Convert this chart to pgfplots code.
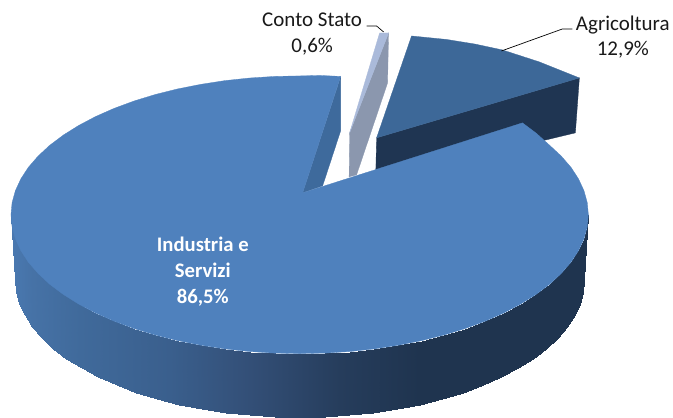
\documentclass[border=0pt]{standalone}
\usepackage{pgfplots}
\pgfplotsset{compat=1.18}
\usepackage{fontspec}
\setmainfont{Carlito}
\definecolor{topmain}{RGB}{79,129,189}
\definecolor{cutmain}{RGB}{62,106,156}
\definecolor{topagri}{RGB}{61,104,152}
\definecolor{wallagri}{RGB}{31,53,82}
\definecolor{topconto}{RGB}{170,186,218}
\definecolor{wallconto}{RGB}{139,151,174}
\begin{document}
\begin{tikzpicture}
\begin{axis}[
  width=673pt,height=418pt,scale only axis,hide axis,clip=false,
  xmin=0,xmax=673,ymin=0,ymax=418,y dir=reverse,
  colormap={wall}{
    rgb255(0pt)=(76,124,182);
    rgb255(33pt)=(70,114,166);
    rgb255(80pt)=(64,106,155);
    rgb255(170pt)=(58,95,141);
    rgb255(250pt)=(51,79,119);
    rgb255(340pt)=(38,61,92);
    rgb255(420pt)=(31,52,79);
    rgb255(673pt)=(31,52,79)},
  point meta min=0,point meta max=673
]
\path (axis cs:0,0) -- (axis cs:673,418);
% Conto Stato
\addplot[fill=wallconto,draw=wallconto,line width=0.3pt] coordinates {(389,33) (388,83) (357,175) (349.5,177) (350,133)} --cycle;
\addplot[fill=topconto,draw=topconto,line width=0.3pt] coordinates {(380,33) (389,33) (350,133)} --cycle;
% Agricoltura
\addplot[fill=wallagri,draw=wallagri,line width=0.3pt] coordinates {(377,138) (580,78) (576,133) (376,181)} --cycle;
\addplot[fill=topagri,draw=topagri,line width=0.3pt] coordinates {(412,36) (447,39.5) (475,44) (503,50) (540,62) (580,78) (377,138)} --cycle;
% Industria e Servizi: cut face
\addplot[fill=cutmain,draw=cutmain,line width=0.3pt] coordinates {(341,77) (341,131) (323,186) (303,193)} --cycle;
% Industria e Servizi: wall
\addplot[patch,patch type=rectangle,shader=interp,point meta=x] table[row sep=newline] {
x y
11.0 215.0
12.1 227.1
16.1 292.0
15.0 280.0
12.1 227.1
15.4 239.1
19.3 304.0
16.1 292.0
15.4 239.1
20.9 251.0
24.7 315.7
19.3 304.0
20.9 251.0
28.4 262.5
32.2 327.2
24.7 315.7
28.4 262.5
38.1 273.7
41.7 338.3
32.2 327.2
38.1 273.7
49.7 284.5
53.2 349.0
41.7 338.3
49.7 284.5
63.3 294.7
66.5 359.2
53.2 349.0
63.3 294.7
78.6 304.3
81.7 368.7
66.5 359.2
78.6 304.3
95.6 313.3
98.5 377.6
81.7 368.7
95.6 313.3
114.2 321.5
116.8 385.7
98.5 377.6
114.2 321.5
134.2 328.9
136.5 393.1
116.8 385.7
134.2 328.9
155.5 335.4
157.5 399.5
136.5 393.1
155.5 335.4
177.9 341.0
179.6 405.1
157.5 399.5
177.9 341.0
201.2 345.6
202.5 409.7
179.6 405.1
201.2 345.6
225.2 349.3
226.2 413.3
202.5 409.7
225.2 349.3
249.8 351.9
250.5 415.9
226.2 413.3
249.8 351.9
274.8 353.5
275.1 417.5
250.5 415.9
274.8 353.5
300.0 354.0
300.0 418.0
275.1 417.5
300.0 354.0
325.2 353.5
324.9 417.5
300.0 418.0
325.2 353.5
350.2 351.9
349.5 415.9
324.9 417.5
350.2 351.9
374.8 349.3
373.8 413.3
349.5 415.9
374.8 349.3
398.8 345.6
397.5 409.7
373.8 413.3
398.8 345.6
422.1 341.0
420.4 405.1
397.5 409.7
422.1 341.0
444.5 335.4
442.5 399.5
420.4 405.1
444.5 335.4
465.8 328.9
463.5 393.1
442.5 399.5
465.8 328.9
485.8 321.5
483.2 385.7
463.5 393.1
485.8 321.5
504.4 313.3
501.5 377.6
483.2 385.7
504.4 313.3
521.4 304.3
518.3 368.7
501.5 377.6
521.4 304.3
536.7 294.7
533.5 359.2
518.3 368.7
536.7 294.7
550.3 284.5
546.8 349.0
533.5 359.2
550.3 284.5
561.9 273.7
558.3 338.3
546.8 349.0
561.9 273.7
571.6 262.5
567.8 327.2
558.3 338.3
571.6 262.5
579.1 251.0
575.3 315.7
567.8 327.2
579.1 251.0
584.6 239.1
580.7 304.0
575.3 315.7
584.6 239.1
587.9 227.1
583.9 292.0
580.7 304.0
587.9 227.1
589.0 215.0
585.0 280.0
583.9 292.0
};
% Industria e Servizi: top face
\addplot[fill=topmain,draw=topmain,line width=0.3pt] coordinates {
(303,193) (341,76.5) (320,75.5) (300,76) (274.8,76.5) (249.8,78.1) (225.2,80.7) (201.2,84.4)
(177.9,89) (155.5,94.6) (134.2,101.1) (114.2,108.5) (95.6,116.7) (78.6,125.7) (63.3,135.3)
(49.7,145.5) (38.1,156.3) (28.4,167.5) (20.9,179) (15.4,190.9) (12.1,202.9) (11,215)
(12.1,227.1) (15.4,239.1) (20.9,251) (28.4,262.5) (38.1,273.7) (49.7,284.5) (63.3,294.7)
(78.6,304.3) (95.6,313.3) (114.2,321.5) (134.2,328.9) (155.5,335.4) (177.9,341) (201.2,345.6)
(225.2,349.3) (249.8,351.9) (274.8,353.5) (300,354) (325.2,353.5) (350.2,351.9) (374.8,349.3)
(398.8,345.6) (422.1,341) (444.5,335.4) (465.8,328.9) (485.8,321.5) (504.4,313.3) (521.4,304.3)
(536.7,294.7) (550.3,284.5) (561.9,273.7) (571.6,262.5) (579.1,251) (584.6,239.1) (587.9,227.1)
(589,215) (587.9,202.9) (584.6,190.9) (579.1,179) (571.6,167.5) (561.9,156.3) (550.3,145.5)
(537,133.5) (523,123)} --cycle;
% leader lines
\addplot[black,line width=0.7pt] coordinates {(367,26) (377,26) (384,32)};
\addplot[black,line width=0.7pt] coordinates {(573,29) (563,29) (502,51)};
% labels
\node[align=center,font=\fontsize{21}{26}\selectfont,text=black!90] at (axis cs:312.5,34.5) {Conto Stato\\0,6\%};
\node[align=center,font=\fontsize{21}{25.5}\selectfont,text=black!90] at (axis cs:623.5,37) {Agricoltura\\12,9\%};
\node[align=center,font=\fontsize{20.7}{26}\selectfont\bfseries,text=white] at (axis cs:203,272) {Industria e\\Servizi\\86,5\%};
\end{axis}
\end{tikzpicture}
\end{document}
